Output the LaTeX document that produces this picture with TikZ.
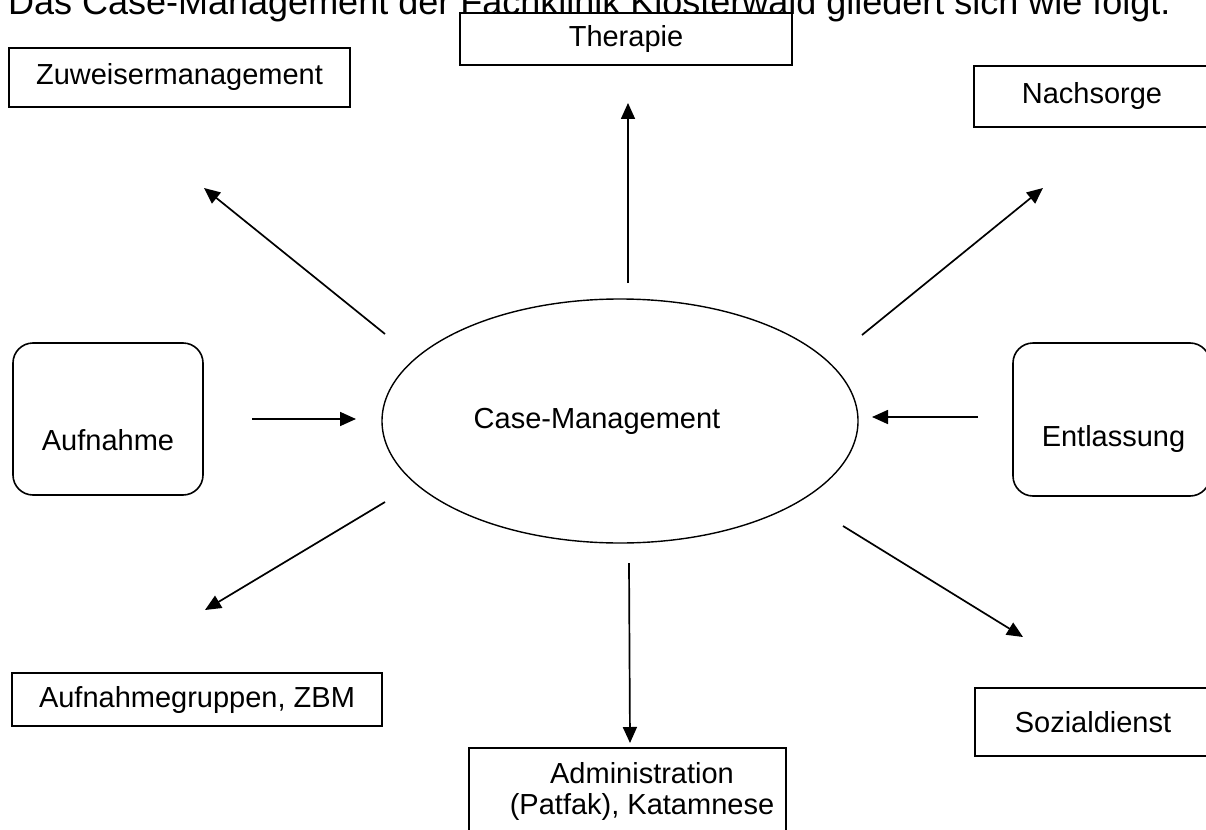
\documentclass[tikz,border=0pt]{standalone}
\usepackage{fontspec}
\setmainfont{Liberation Sans}
\usetikzlibrary{arrows.meta,positioning,calc,shapes.geometric}
\tikzset{
  kasten/.style={rectangle, draw=black, line width=1.6pt, fill=white,
                 inner sep=0pt, align=center},
  rundkasten/.style={kasten, rounded corners=20pt},
  pfeil/.style={-{Triangle[length=16pt,width=14pt]}, line width=1.7pt},
}

\begin{document}
\begin{tikzpicture}[x=1pt, y=-1pt, font=\fontsize{29}{31}\selectfont]
  \useasboundingbox (0,0) rectangle (1206,829);
  \clip (0,0) rectangle (1206,829);
  % Ueberschrift (oben angeschnitten)
  \node[anchor=base west, inner sep=0pt, font=\fontsize{36}{40}\selectfont] (titel) at (8,15)
    {Das Case-Management der Fachklinik Klosterwald gliedert sich wie folgt.};
  % Mitte
  \node[ellipse, draw, line width=1.4pt, minimum width=476pt, minimum height=244pt, inner sep=0pt,
        label={[xshift=-23pt]center:Case-Management}] (cm) at (620,421) {};
  % Kaesten
  \node[kasten, minimum width=341pt, minimum height=59pt] (zw) at (179.5,77.5) {Zuweisermanagement};
  \node[kasten, minimum width=332pt, minimum height=52pt] (th) at (626,39) {Therapie};
  \node[kasten, minimum width=236pt, minimum height=61pt] (na) at (1092,96.5) {Nachsorge};
  \node[rundkasten, minimum width=190pt, minimum height=152pt,
        label={[yshift=-21pt]center:Aufnahme}] (au) at (108,419) {};
  \node[rundkasten, minimum width=197pt, minimum height=153pt,
        label={[xshift=2pt, yshift=-19pt]center:Entlassung}] (en) at (1111.5,419.5) {};
  \node[kasten, minimum width=370pt, minimum height=53pt] (ag) at (197,699.5) {Aufnahmegruppen, ZBM};
  \node[kasten, minimum width=236pt, minimum height=68pt] (so) at (1093,722) {Sozialdienst};
  \node[kasten, minimum width=317pt, minimum height=87pt,
        label={[xshift=14.5pt, align=center]center:Administration\\(Patfak), Katamnese}] (ad) at (627.5,791.5) {};
  % Pfeilenden
  \coordinate (p1a) at (628,283);  \coordinate (p1b) at (628,103);
  \coordinate (p2a) at (385,334);  \coordinate (p2b) at (204,188);
  \coordinate (p3a) at (862,335);  \coordinate (p3b) at (1043,188);
  \coordinate (p4a) at (252,419);  \coordinate (p4b) at (356,419);
  \coordinate (p5a) at (978,417);  \coordinate (p5b) at (872,417);
  \coordinate (p6a) at (385,502);  \coordinate (p6b) at (205,610);
  \coordinate (p7a) at (629,563);  \coordinate (p7b) at (630,743);
  \coordinate (p8a) at (843,526);  \coordinate (p8b) at (1023,637);
  \foreach \i in {1,...,8} {\draw[pfeil] (p\i a) -- (p\i b);}
\end{tikzpicture}
\end{document}
